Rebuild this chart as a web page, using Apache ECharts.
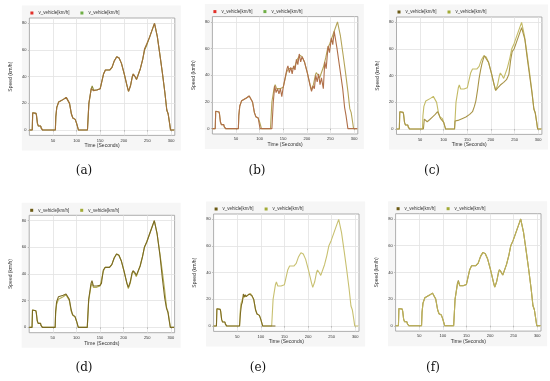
<!DOCTYPE html>
<html><head><meta charset="utf-8">
<script src="https://cdn.jsdelivr.net/npm/echarts@6/dist/echarts.min.js"></script>
<style>html,body{margin:0;padding:0;background:#fff}#c{width:550px;height:381px}</style>
</head><body><div id="c"></div>
<script>
// ---- data (time in seconds, speed in km/h) ----
const panelLabels = ['(a)', '(b)', '(c)', '(d)', '(e)', '(f)'];
const seriesName = 'v_vehicle[km/h]';
const xTicks = [50, 100, 150, 200, 250, 300];
const yTicks = [0, 20, 40, 60, 80];
const xAxisTitle = 'Time (Seconds)';
const yAxisTitle = 'Speed (km/h)';

const reference = [[0,0],[6,0],[7,13],[9,13],[14,12.5],[15,11],[17,5],[19,3],[24,3],[25,1.5],[28,0],
 [55,0],[56,10],[58,17],[62,21],[66,22],[72,23],[78,24.5],[81,24],[85,20],[89,12],[92,9],[97,8],[100,5],[104,0],
 [123,0],[126,20],[131,31],[133,33],[136,30],[143,30],[150,31],[153,32],[157,42],[161,45],[170,45],[175,47],[180,52],
 [185,55],[190,54],[195,50],[201,42],[207,33],[210,29],[214,33],[218,40],[220,42],[224,40],[227,38],[230,39],[235,46],
 [240,53],[244,60],[249,64],[255,70],[261,76],[265,80],[271,70],[277,55],[282,42],[287,28],[291,15],[294,12],[297,5],[299,0],[307,0]];

const testA = [[0,0],[6,0],[7,13],[9,13],[14,12.5],[15,11],[17,5],[19,3],[24,3],[25,1.5],[28,0],
 [55,0],[56,10],[58,17],[62,21],[66,22],[72,23],[78,24.5],[81,24],[85,20],[89,12],[92,9],[97,8],[100,5],[104,0],
 [123,0],[126,20],[131,31],[133,32],[136,29.5],[143,30],[150,31],[153,32],[157,42],[161,45],[170,45],[175,47],[180,52],
 [185,55],[190,54],[195,50],[201,42],[207,33],[210,29],[214,33],[218,40],[220,42],[224,40],[227,38],[230,39],[235,46],
 [240,53],[244,61],[249,65],[255,70],[261,76],[265,80],[271,70],[277,55],[282,42],[287,28],[291,15],[294,12],[297,5],[299,0],[307,0]];

const testB = [[0,0],[6,0],[7,13],[9,13],[14,12.5],[15,11],[17,5],[19,3],[24,3],[25,1.5],[28,0],
 [55,0],[56,10],[58,17],[62,21],[66,22],[72,23],[78,24.5],[81,24],[85,20],[89,12],[92,9],[97,8],[99,4],[101,0],
 [126,0],[129,20],[132,32],[135,27],[138,30],[141,26],[144,30],[147,24],[150,31],[154,32],[158,45],[160,47],[163,42],
 [166,46],[169,41],[172,47],[175,44],[178,52],[181,48],[184,56],[187,50],[190,54],[195,50],[201,42],[207,32],[210,28],
 [213,32],[216,30],[219,40],[222,35],[225,41],[228,33],[231,38],[235,30],[238,50],[241,45],[245,62],[248,57],[252,68],
 [255,63],[258,73],[264,60],[270,45],[276,30],[280,16],[283,10],[287,0],[307,0]];

const testC = [[0,0],[6,0],[7,13],[9,13],[14,12.5],[15,11],[17,5],[19,3],[24,3],[25,1.5],[28,0],
 [57,0],[59,7.5],[65,5.5],[70,7],[76,9],[82,11],[87,13],[91,10],[93,8],[97,7.5],[100,5],[104,0],
 [123,0],[124,6],[130,6.5],[140,8],[147,9],[155,11],[161,13],[165,17],[168,21],[172,30],[175,38],[178,44],[181,49],
 [186,55],[190,54],[195,50],[201,42],[207,33],[210,29],[215,31],[220,33],[227,35],[233,37],[238,41],[242,52],[245,58],
 [249,60],[254,65],[260,71],[265,76],[267,77],[272,67],[277,53],[282,40],[287,27],[291,15],[294,12],[297,5],[299,0],[307,0]];

const testD = [[0,0],[6,0],[7,13],[9,13],[14,12.5],[15,11],[17,5],[19,3],[24,3],[25,1.5],[28,0],
 [55,0],[56,12],[58,19],[62,23],[66,23.5],[72,24],[78,25],[81,24.5],[85,21],[89,13],[92,9.5],[97,8],[100,5],[104,0],
 [123,0],[126,21],[131,33],[133,35],[136,31],[143,31],[150,31.5],[153,33],[157,43],[161,45],[170,45],[175,47],[180,52],
 [185,55],[190,54],[195,50],[201,42],[207,33],[210,30],[214,34],[218,41],[220,42.5],[224,41],[227,39],[230,39.5],[235,46],
 [240,53],[244,60],[249,64],[255,70],[261,76],[265,80],[271,70],[277,54],[282,37],[287,22],[291,14],[294,11],[297,4],[299,0],[307,0]];

const testE = [[0,0],[6,0],[7,13],[9,13],[14,12.5],[15,11],[17,5],[19,3],[24,3],[25,1.5],[28,0],
 [55,0],[57,10],[59,16],[61,18],[63,24],[65,22],[67,23.5],[69,22],[72,22.5],[75,24],[78,25],[81,23],[85,20],
 [89,12],[92,9],[97,8],[100,5],[104,0],[131,0]];

const testF = [[0,0],[6,0],[7,13],[9,13],[14,12.5],[15,11],[17,5],[19,3],[24,3],[25,1.5],[28,0],
 [55,0],[56,10],[58,17],[62,21],[66,22],[72,23],[78,24.5],[81,24],[85,20],[89,12],[92,9],[97,8],[100,5],[104,0],
 [123,0],[126,20],[131,32],[133,34],[136,30],[143,30],[150,31],[153,32],[157,42],[161,45],[170,45],[175,47],[180,52],
 [185,55],[190,54],[195,50],[201,42],[207,33],[210,29],[214,33],[218,40],[220,42],[224,40],[227,38],[230,39],[235,46],
 [240,53],[244,60],[249,64],[255,70],[261,76],[265,80],[271,70],[277,55],[282,42],[287,28],[291,15],[294,12],[297,5],[299,0],[307,0]];

const testSeries = [testA, testB, testC, testD, testE, testF];

// ---- layout / style ----
const pos = [[29.4,18],[212.4,16.6],[396.5,17],[29.2,215.3],[213.6,214],[395.6,213.7]];
const W = 145.4, H = 117.4;
const legendColors = [['#e3302a','#6fae45'],['#e3302a','#6fae45'],['#6b5a14','#a2ab36'],['#6b5a14','#a2ab36'],['#6b5a14','#a2ab36'],['#6b5a14','#a2ab36']];
const lineColors = [['#a0703a','#8e8c38'],['#b0704a','#b4a458'],['#a89448','#c4bb66'],['#7a6a22','#b8b25a'],['#7e6c22','#c8c070'],['#a09040','#bbb05a']];
const testOnTop = [true, true, true, true, true, false];

const grid = [], xAxis = [], yAxis = [], series = [], legend = [], graphic = [];
const font = 'Liberation Sans';
pos.forEach(([L, T], i) => {
  graphic.push({type:'rect', z:-100, shape:{x:L-7.5, y:T-12.5, width:159, height:145}, style:{fill:'#f6f6f6'}, silent:true});
  grid.push({left:L, top:T, width:W, height:H, show:true, backgroundColor:'#fff', borderColor:'#9a9a9a', borderWidth:0.8});
  xAxis.push({type:'value', gridIndex:i, min:0, max:308,
    name:xAxisTitle, nameLocation:'middle', nameGap:8, nameTextStyle:{fontSize:5, color:'#333', fontFamily:font},
    axisLine:{show:false},
    axisTick:{show:true, length:1.5, customValues:xTicks, lineStyle:{color:'#999', width:0.6}},
    axisLabel:{fontSize:4, color:'#333', margin:3, customValues:xTicks, fontFamily:font},
    splitLine:{show:true, lineStyle:{color:'#e2e2e2', width:0.8}}});
  yAxis.push({type:'value', gridIndex:i, min:-4, max:84,
    name:yAxisTitle, nameLocation:'middle', nameGap:16, nameTextStyle:{fontSize:5, color:'#333', fontFamily:font},
    axisLine:{show:false},
    axisTick:{show:true, length:1.5, customValues:yTicks, lineStyle:{color:'#999', width:0.6}},
    axisLabel:{fontSize:4, color:'#333', margin:3, customValues:yTicks, fontFamily:font},
    splitLine:{show:true, lineStyle:{color:'#e2e2e2', width:0.8}}});
  const nTest = 't' + i, nRef = 'r' + i;
  const sTest = {name:nTest, type:'line', xAxisIndex:i, yAxisIndex:i, data:testSeries[i], showSymbol:false,
    itemStyle:{color:legendColors[i][0]}, lineStyle:{color:lineColors[i][0], width:1.1}, z: testOnTop[i] ? 3 : 2};
  const sRef = {name:nRef, type:'line', xAxisIndex:i, yAxisIndex:i, data:reference, showSymbol:false,
    itemStyle:{color:legendColors[i][1]}, lineStyle:{color:lineColors[i][1], width:1.1}, z: testOnTop[i] ? 2 : 3};
  series.push(sTest, sRef);
  legend.push({left:L+1, top:T-7.5, data:[nTest, nRef], icon:'rect', itemWidth:3, itemHeight:3, itemGap:11,
    padding:0, selectedMode:false, formatter:() => seriesName, textStyle:{fontSize:4.5, color:'#333', fontFamily:font}});
});
const labelPos = [[84,171],[257,171],[432,171],[84,368],[258,368],[433,368]];
labelPos.forEach(([x, y], i) => {
  graphic.push({type:'text', x:x, y:y, style:{text:panelLabels[i], fontSize:12, fontFamily:'DejaVu Serif', fill:'#111', align:'center', verticalAlign:'middle'}});
});

const chart = echarts.init(document.getElementById('c'), null, {renderer:'canvas'});
chart.setOption({animation:false, backgroundColor:'#fff', grid, xAxis, yAxis, series, legend, graphic});
</script></body></html>
